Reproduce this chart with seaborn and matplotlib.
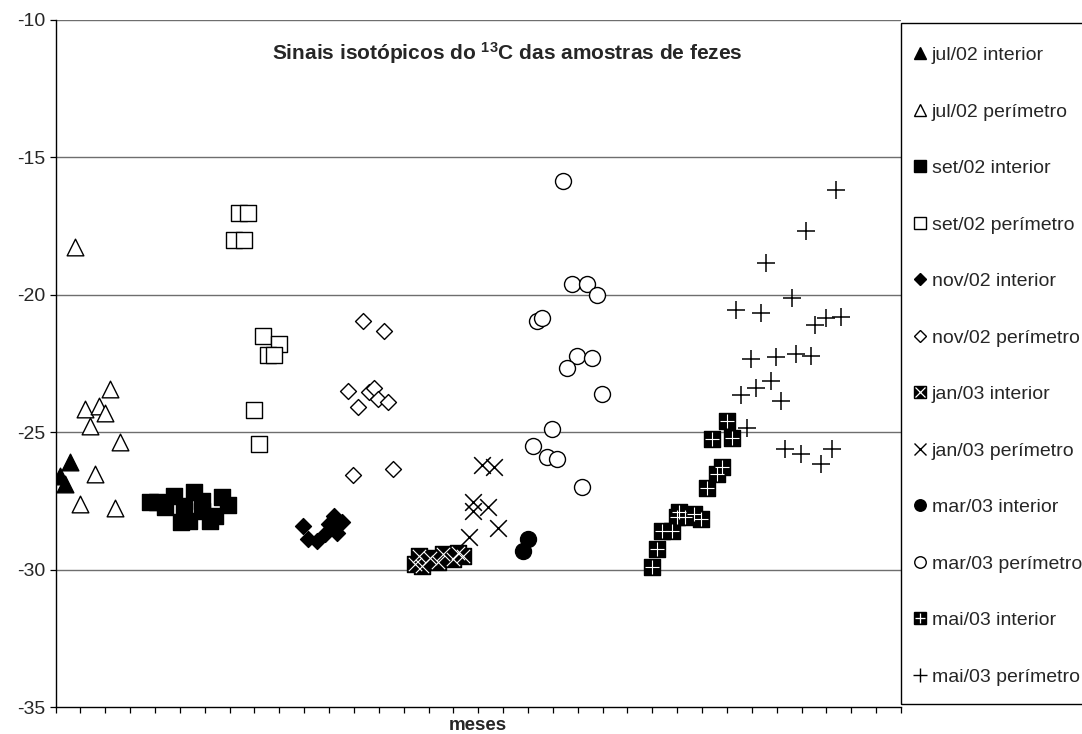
import matplotlib
matplotlib.use("Agg")
import matplotlib.pyplot as plt
from matplotlib.lines import Line2D
from matplotlib.patches import Rectangle
from matplotlib.legend_handler import HandlerTuple
import seaborn as sns

sns.set_theme(style="white")
plt.rcParams["font.family"] = ["Liberation Sans", "DejaVu Sans"]
plt.rcParams["mathtext.fontset"] = "custom"
plt.rcParams["mathtext.rm"] = "Liberation Sans"
plt.rcParams["mathtext.bf"] = "Liberation Sans:bold"

# Sample positions along the month axis and delta-13C values per group
jul02_int_x = [0.58, 0.18, 0.38]
jul02_int_y = [-26.10, -26.58, -26.89]

jul02_per_x = [0.78, 2.19, 1.19, 1.76, 1.99, 1.39, 2.60, 1.59, 0.98, 2.39]
jul02_per_y = [-18.25, -23.42, -24.17, -24.05, -24.29, -24.76, -25.34, -26.52, -27.62, -27.77]

set02_int_x = [3.80, 4.07, 4.40, 4.76, 5.03, 5.15, 5.35, 5.55, 5.88, 5.88, 6.22, 6.42, 6.69, 6.95]
set02_int_y = [-27.55, -27.55, -27.74, -27.31, -28.26, -27.68, -28.22, -27.19, -27.49, -27.86,
               -28.22, -28.04, -27.37, -27.65]

set02_per_x = [7.37, 7.76, 7.18, 7.57, 8.36, 8.97, 8.56, 8.79, 7.99, 8.19]
set02_per_y = [-17.01, -17.01, -18.02, -18.02, -21.51, -21.78, -22.18, -22.20, -24.18, -25.43]

nov02_int_x = [9.97, 10.17, 10.51, 10.85, 11.00, 11.18, 11.32, 11.54]
nov02_int_y = [-28.41, -28.89, -28.95, -28.71, -28.35, -28.04, -28.65, -28.28]

nov02_per_x = [12.36, 13.19, 11.78, 12.18, 12.59, 12.79, 12.96, 13.37, 11.98, 13.57]
nov02_per_y = [-20.96, -21.33, -23.50, -24.10, -23.52, -23.39, -23.81, -23.91, -26.56, -26.34]

jan03_int_x = [14.47, 14.60, 14.74, 15.07, 15.40, 15.60, 16.00, 16.20, 16.37]
jan03_int_y = [-29.80, -29.50, -29.87, -29.56, -29.74, -29.44, -29.62, -29.38, -29.50]

jan03_per_x = [17.15, 17.62, 16.80, 16.78, 17.41, 17.79, 16.61]
jan03_per_y = [-26.19, -26.28, -27.55, -27.86, -27.71, -28.47, -28.83]

mar03_int_x = [18.79, 19.00]
mar03_int_y = [-29.32, -28.89]

mar03_per_x = [20.41, 20.77, 21.38, 21.78, 19.36, 19.58, 20.97, 21.59, 20.57, 21.98,
               19.97, 19.19, 19.77, 20.17, 21.17]
mar03_per_y = [-15.85, -19.59, -19.61, -19.99, -20.96, -20.86, -22.23, -22.30, -22.66, -23.60,
               -24.88, -25.51, -25.91, -25.97, -27.01]

mai03_int_x = [24.00, 24.19, 24.39, 24.80, 25.00, 25.06, 25.33, 25.67, 25.96, 26.20,
               26.40, 26.60, 26.81, 27.01, 27.21]
mai03_int_y = [-29.89, -29.26, -28.59, -28.59, -28.10, -27.92, -28.07, -27.98, -28.16, -27.04,
               -25.26, -26.52, -26.28, -24.60, -25.22]

mai03_per_x = [31.40, 30.19, 28.58, 29.60, 27.37, 28.39, 30.56, 30.99, 31.57, 27.98, 28.98,
               29.76, 30.40, 28.79, 28.15, 27.55, 29.18, 27.79, 29.33, 29.96, 30.80, 31.21]
mai03_per_y = [-16.18, -17.68, -18.86, -20.13, -20.56, -20.66, -21.11, -20.84, -20.80, -22.35,
               -22.27, -22.14, -22.24, -23.15, -23.39, -23.64, -23.86, -24.85, -25.61, -25.79,
               -26.16, -25.61]

labels = ["jul/02 interior", "jul/02 perímetro", "set/02 interior", "set/02 perímetro",
          "nov/02 interior", "nov/02 perímetro", "jan/03 interior", "jan/03 perímetro",
          "mar/03 interior", "mar/03 perímetro", "mai/03 interior", "mai/03 perímetro"]

y_ticks = [-35, -30, -25, -20, -15, -10]

series = [
    (jul02_int_x, jul02_int_y), (jul02_per_x, jul02_per_y),
    (set02_int_x, set02_int_y), (set02_per_x, set02_per_y),
    (nov02_int_x, nov02_int_y), (nov02_per_x, nov02_per_y),
    (jan03_int_x, jan03_int_y), (jan03_per_x, jan03_per_y),
    (mar03_int_x, mar03_int_y), (mar03_per_x, mar03_per_y),
    (mai03_int_x, mai03_int_y), (mai03_per_x, mai03_per_y),
]

# marker, size (pt), face colour, overlay marker drawn in white on top (or None)
styles = [
    ("^", 12.0, "black", None),
    ("^", 12.0, "white", None),
    ("s", 11.3, "black", None),
    ("s", 11.3, "white", None),
    ("D", 8.1, "black", None),
    ("D", 8.1, "white", None),
    ("s", 11.3, "black", "x"),
    ("x", 12.0, "black", None),
    ("o", 11.5, "black", None),
    ("o", 11.5, "white", None),
    ("s", 11.3, "black", "+"),
    ("+", 12.5, "black", None),
]

W, H = 1082, 734
fig = plt.figure(figsize=(W / 100, H / 100), dpi=100)
ax = fig.add_axes([55.5 / W, 1 - 707 / H, (901 - 55.5) / W, (707 - 20) / H])

for (xs, ys), (mk, size, face, over) in zip(series, styles):
    if mk in ("x", "+"):
        sns.scatterplot(x=xs, y=ys, marker=mk, s=size ** 2, color="black",
                        linewidth=1.1, ax=ax, zorder=3)
    else:
        sns.scatterplot(x=xs, y=ys, marker=mk, s=size ** 2, color=face,
                        edgecolor="black", linewidth=1.0, ax=ax, zorder=3)
    if over is not None:
        sns.scatterplot(x=xs, y=ys, marker=over, s=(size * 0.85) ** 2, color="white",
                        linewidth=0.8, ax=ax, zorder=3)

ax.set_xlim(0, 34)
ax.set_ylim(-35, -10)
ax.set_xticks(range(0, 35))
ax.set_xticklabels([])
ax.set_yticks(y_ticks)
ax.set_yticklabels([str(v) for v in y_ticks], fontsize=14)
ax.tick_params(axis="both", direction="out", length=4, width=0.9, color="black",
               bottom=True, left=True)
ax.tick_params(axis="y", pad=3)

for v in y_ticks[1:]:
    ax.axhline(v, color="#6e6e6e", linewidth=1.0, zorder=1)

for side in ("top", "right"):
    ax.spines[side].set_visible(False)
for side in ("left", "bottom"):
    ax.spines[side].set_visible(True)
    ax.spines[side].set_color("black")
    ax.spines[side].set_linewidth(1.0)

ax.set_xlabel("meses", fontsize=13.5, fontweight="bold", labelpad=0)
ax.set_ylabel("")

fig.text(507 / W, 1 - 53 / H, r"Sinais isotópicos do $\mathbf{^{13}}$C das amostras de fezes",
         ha="center", va="center", fontsize=15, fontweight="bold")

# Legend box outline
fig.add_artist(Rectangle((901 / W, 1 - 704 / H), (W + 20 - 901) / W, (704 - 22.7) / H,
                         transform=fig.transFigure, fill=False, edgecolor="black",
                         linewidth=1.0, clip_on=False))

# Legend handles
handles = []
for mk, size, face, over in styles:
    if mk in ("x", "+"):
        h = Line2D([], [], linestyle="none", marker=mk, markersize=size * 0.75,
                   color="black", markeredgewidth=1.0)
    else:
        h = Line2D([], [], linestyle="none", marker=mk, markersize=size * 0.72,
                   markerfacecolor=face, markeredgecolor="black", markeredgewidth=1.0)
    if over is not None:
        o = Line2D([], [], linestyle="none", marker=over, markersize=size * 0.62,
                   color="white", markeredgewidth=0.9)
        h = (h, o)
    handles.append(h)

leg = fig.legend(handles, labels, loc="upper left",
                 bbox_to_anchor=(914.2 / W, 1 - 46.5 / H), bbox_transform=fig.transFigure,
                 frameon=False, borderaxespad=0, borderpad=0, labelspacing=2.0,
                 handlelength=0.6, handletextpad=0.31, fontsize=14,
                 handler_map={tuple: HandlerTuple(ndivide=1, pad=0)})

fig.savefig("out.png", dpi=100, facecolor="white")
